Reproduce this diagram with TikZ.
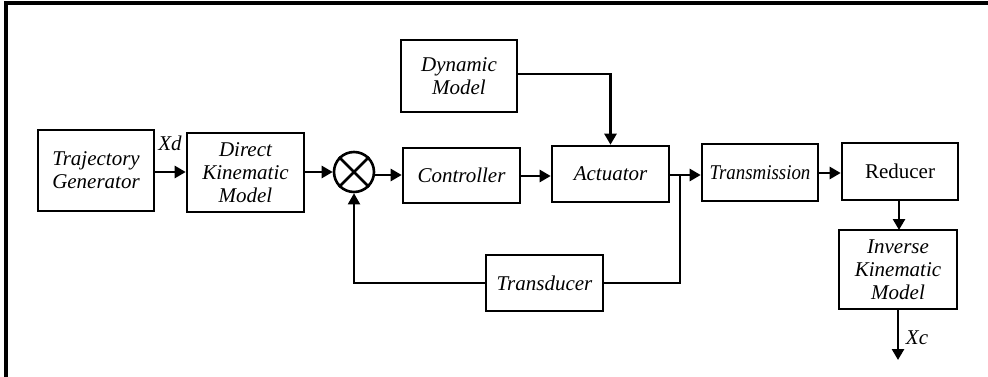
\documentclass[tikz,border=0pt]{standalone}
\usepackage{fontspec}
\usepackage{graphicx}
\setmainfont{Liberation Serif}
\usetikzlibrary{arrows.meta}
\tikzset{
  block/.style={draw, line width=2.6pt, inner sep=0pt, align=center,
    font=\fontsize{21}{23}\selectfont\itshape},
  link/.style={line width=2.6pt},
  flow/.style={link, -{Triangle[length=11pt,width=12pt]}},
  lbl/.style={font=\fontsize{21}{23}\selectfont\itshape, inner sep=0pt}
}
\begin{document}
\begin{tikzpicture}[x=1pt,y=-1pt]
\useasboundingbox (0,0) rectangle (988,377);
% frame along the top and left
\draw[line width=4pt] (992,3.5) -- (5.5,3.5) -- (5.5,381);

% blocks
\node[block, minimum width=116pt, minimum height=81pt] (tg)   at (96,170.5)  {Trajectory\\Generator};
\node[block, minimum width=117pt, minimum height=79pt] (dkm)  at (245.5,172.5) {Direct\\Kinematic\\Model};
\node[draw, circle, line width=2.6pt, minimum size=40pt, inner sep=0pt] (sum) at (354,172) {};
\draw[line width=2.6pt] (sum.north east) -- (sum.south west) (sum.north west) -- (sum.south east);
\node[block, minimum width=117pt, minimum height=55pt] (ctrl) at (461.5,175.5) {Controller};
\node[block, minimum width=117pt, minimum height=56pt] (act)  at (610.5,174)  {Actuator};
\node[block, minimum width=116pt, minimum height=72pt] (dyn)  at (459,76)     {Dynamic\\Model};
\node[block, minimum width=117pt, minimum height=56pt] (trd)  at (544.5,283)  {Transducer};
\node[block, minimum width=116pt, minimum height=57pt] (trm) at (760,172.5) {\scalebox{0.9}[1]{Transmission}};
\node[block, minimum width=116pt, minimum height=57pt, font=\fontsize{21}{23}\selectfont\upshape] (red) at (900,171.5) {Reducer};
\node[block, minimum width=118pt, minimum height=79pt] (ikm)  at (898,269.5)  {Inverse\\Kinematic\\Model};

% forward path
\draw[flow] (tg.east |- 0,172) -- (dkm.west |- 0,172);
\node[lbl] (xd) at (170,143) {Xd};
\draw[flow] (dkm.east |- 0,172) -- (sum.west);
\draw[flow] (sum.east |- 0,175) -- (ctrl.west |- 0,175);
\draw[flow] (ctrl.east |- 0,176) -- (act.west |- 0,176);
\coordinate (br) at (680,175);
\draw[link] (act.east |- br) -- (br);
\draw[flow] (br) -- (trm.west |- br);
\draw[flow] (trm.east |- 0,173) -- (red.west |- 0,173);
\draw[flow] (dyn.east |- 0,74) -| (act.north);
\draw[flow] (899,200) -- (899,230);

% feedback path
\draw[link] (br) -- (br |- trd.east) -- (trd.east);
\draw[flow, line width=2pt] (trd.west) -| (sum.south);

% output
\coordinate (out) at (898,360);
\draw[flow] (ikm.south) -- (out);
\node[lbl] (xc) at (917,338) {Xc};
\end{tikzpicture}
\end{document}
